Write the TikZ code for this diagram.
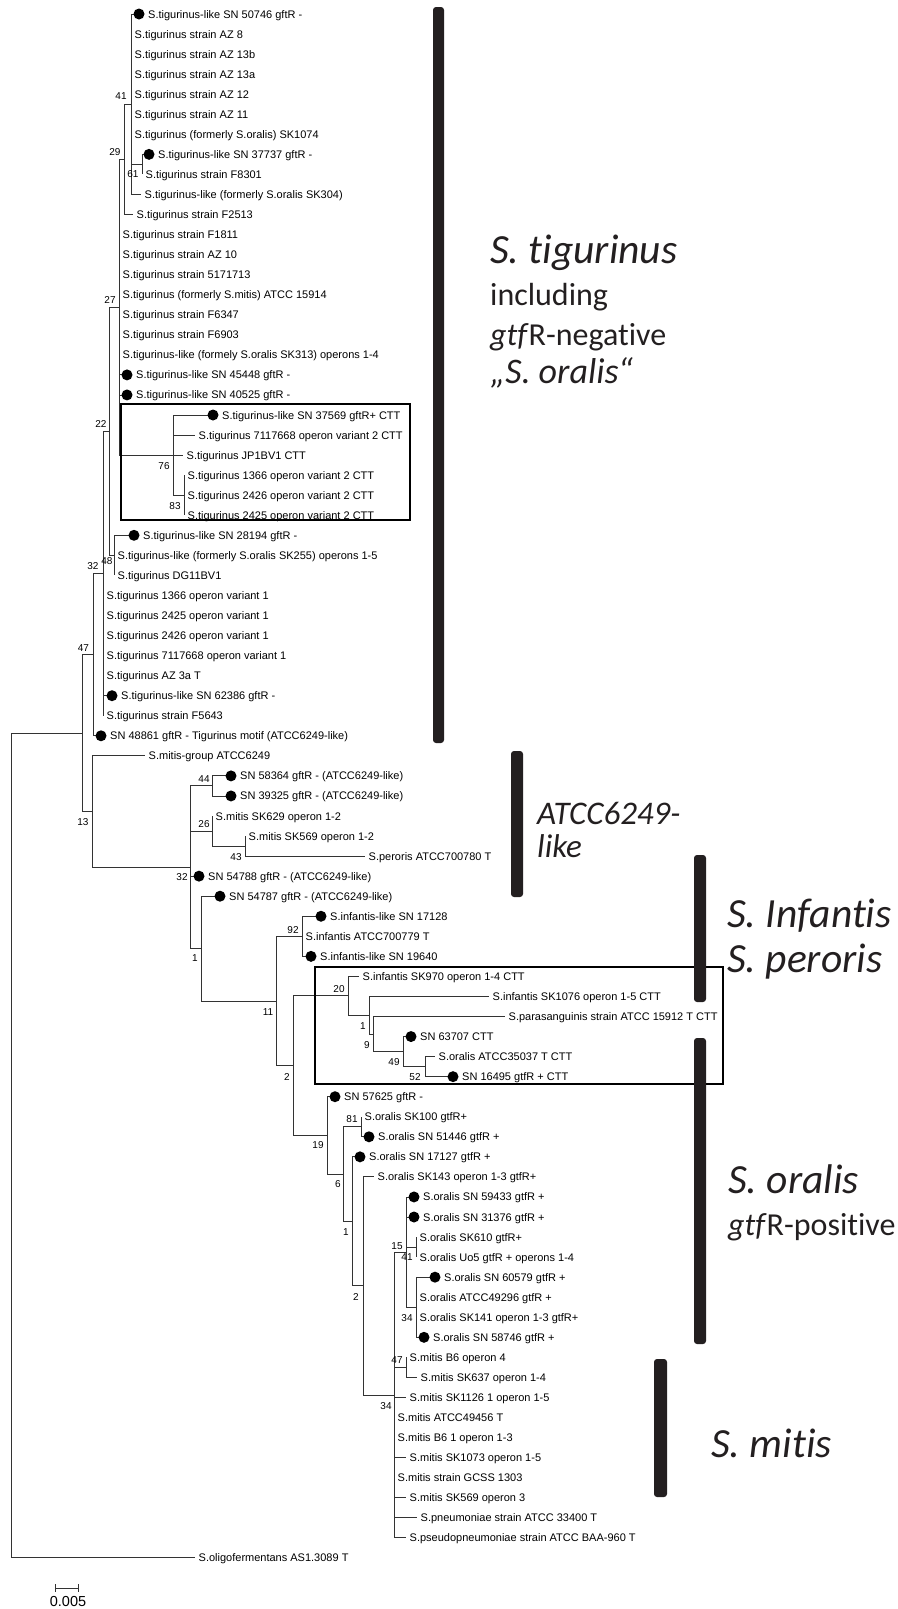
\documentclass[tikz,border=0pt]{standalone}
\usepackage{fontspec}
\setmainfont{Liberation Sans}
\newfontfamily\cladefont[Ligatures=NoCommon]{Carlito}
\usetikzlibrary{arrows}
\definecolor{barblack}{HTML}{231F20}

\tikzset{
  branch/.style={line width=0.9pt,draw=black!80},
  tip/.style={anchor=base west,inner sep=0pt,font=\fontsize{11}{13}\selectfont},
  boot/.style={inner sep=0pt,font=\fontsize{10}{12}\selectfont},
  marker/.style={circle,fill=black,inner sep=0pt,minimum size=11pt},
  cladebar/.style={fill=barblack,rounded corners=3pt},
  cttbox/.style={line width=1.3pt,draw=black},
  clade/.style={anchor=base west,inner sep=0pt,text=barblack,font=\cladefont\fontsize{41.5}{48}\selectfont},
  cladesub/.style={clade,font=\cladefont\fontsize{32}{38}\selectfont}
}

\begin{document}
\begin{tikzpicture}[>=latex,x=1pt,y=-1pt]
  \useasboundingbox (0,0) rectangle (897,1609);
  % inner nodes of the tree
  \foreach \n/\x/\y in {root/11/1145.48, nA/82/733.11, n47/93/654.66, n32a/103/573.52,
      n22/109/431.29, n27/119/307.23, n29/124/159.36, n41/131/104.23, n61/142/164.38,
      n76/173/455.1, n83/184/495.2, n48/114/555.35, n13/92/811.56, n32b/190/867.26,
      n44/212/785.93, n26/212/831.04, n43/245/846.08, n1a/201/948.58, n11/276/1000.96,
      n92/302/936.3, n2a/293/1065.61, n20/348/995.83, n1b/369/1015.25, n9/373/1034.05,
      n49/403/1051.59, n52/425/1066.63, n19/327/1135.4, n6/343/1174.09, n81/361/1126.78,
      n1c/352/1221.39, n2b/363/1285.93, n34a/394/1394.95, n15/406/1252.09,
      n41b/416/1247.08, n34b/416/1307.23, n47b/406/1367.38}
    \coordinate (\n) at (\x,\y);
  \foreach \c/\pa in {nA/root, n47/nA, n13/nA, n32a/n47, n22/n32a, n27/n22, n48/n22,
      n29/n27, n76/n27, n41/n29, n61/n41, n83/n76, n32b/n13, n44/n32b, n26/n32b,
      n1a/n32b, n43/n26, n11/n1a, n92/n11, n2a/n11, n20/n2a, n19/n2a, n1b/n20, n9/n1b,
      n49/n9, n52/n49, n6/n19, n81/n6, n1c/n6, n2b/n1c, n34a/n2b, n15/n34a, n47b/n34a,
      n41b/n15, n34b/n15}
    \draw[branch] (\pa) |- (\c);

  % boxes round the CTT sequences
  \draw[cttbox] (121,404) rectangle (410,520);
  \draw[cttbox] (315,967) rectangle (723,1084);

  % tips without marker
  \foreach \i/\pa/\ex/\txt in {1/n41/131/S.tigurinus strain AZ 8, 2/n41/131/S.tigurinus strain AZ 13b,
      3/n41/131/S.tigurinus strain AZ 13a, 4/n41/131/S.tigurinus strain AZ 12,
      5/n41/131/S.tigurinus strain AZ 11, 6/n41/131/S.tigurinus (formerly S.oralis) SK1074,
      8/n61/142/S.tigurinus strain F8301, 9/n41/141/S.tigurinus-like (formerly S.oralis SK304),
      10/n29/133/S.tigurinus strain F2513, 11/n27/119/S.tigurinus strain F1811,
      12/n27/119/S.tigurinus strain AZ 10, 13/n27/119/S.tigurinus strain 5171713,
      14/n27/119/S.tigurinus (formerly S.mitis) ATCC 15914, 15/n27/119/S.tigurinus strain F6347,
      16/n27/119/S.tigurinus strain F6903,
      17/n27/119/S.tigurinus-like (formely S.oralis SK313) operons 1-4,
      21/n76/195/S.tigurinus 7117668 operon variant 2 CTT, 22/n76/183/S.tigurinus JP1BV1 CTT,
      23/n83/184/S.tigurinus 1366 operon variant 2 CTT, 24/n83/184/S.tigurinus 2426 operon variant 2 CTT,
      25/n83/184/S.tigurinus 2425 operon variant 2 CTT,
      27/n48/114/S.tigurinus-like (formerly S.oralis SK255) operons 1-5,
      28/n48/114/S.tigurinus DG11BV1, 29/n32a/103/S.tigurinus 1366 operon variant 1,
      30/n32a/103/S.tigurinus 2425 operon variant 1, 31/n32a/103/S.tigurinus 2426 operon variant 1,
      32/n32a/103/S.tigurinus 7117668 operon variant 1, 33/n32a/103/S.tigurinus AZ 3a T,
      35/n32a/103/S.tigurinus strain F5643, 37/n13/145/S.mitis-group ATCC6249,
      40/n26/212/S.mitis SK629 operon 1-2, 41/n43/245/S.mitis SK569 operon 1-2,
      42/n43/365/S.peroris ATCC700780 T, 46/n92/302/S.infantis ATCC700779 T,
      48/n20/359/S.infantis SK970 operon 1-4 CTT, 49/n1b/489/S.infantis SK1076 operon 1-5 CTT,
      50/n9/505/S.parasanguinis strain ATCC 15912 T CTT, 52/n52/435/S.oralis ATCC35037 T CTT,
      55/n81/361/S.oralis SK100 gtfR+, 58/n2b/374/S.oralis SK143 operon 1-3 gtfR+,
      61/n41b/416/S.oralis SK610 gtfR+, 62/n41b/416/S.oralis Uo5 gtfR + operons 1-4,
      64/n34b/416/S.oralis ATCC49296 gtfR +, 65/n34b/416/S.oralis SK141 operon 1-3 gtfR+,
      67/n47b/406/S.mitis B6 operon 4, 68/n47b/417/S.mitis SK637 operon 1-4,
      69/n34a/406/S.mitis SK1126 1 operon 1-5, 70/n34a/394/S.mitis ATCC49456 T,
      71/n34a/394/S.mitis B6 1 operon 1-3, 72/n34a/406/S.mitis SK1073 operon 1-5,
      73/n34a/394/S.mitis strain GCSS 1303, 74/n34a/406/S.mitis SK569 operon 3,
      75/n34a/417/S.pneumoniae strain ATCC 33400 T,
      76/n34a/406/S.pseudopneumoniae strain ATCC BAA-960 T,
      77/root/195/S.oligofermentans AS1.3089 T}{
    \pgfmathsetmacro\yy{14+20.05*\i}
    \coordinate (l\i) at (\ex,\yy);
    \draw[branch] (\pa) |- (l\i);
    \node[tip] (t\i) at (\ex+3.5,\yy+4) {\txt};
  }

  % tips with marker
  \foreach \i/\pa/\dx/\txt in {0/n41/139/S.tigurinus-like SN 50746 gftR -,
      7/n61/149/S.tigurinus-like SN 37737 gftR -, 18/n27/127/S.tigurinus-like SN 45448 gftR -,
      19/n27/127/S.tigurinus-like SN 40525 gftR -, 20/n76/213/S.tigurinus-like SN 37569 gftR+ CTT,
      26/n48/134/S.tigurinus-like SN 28194 gftR -, 34/n32a/112/S.tigurinus-like SN 62386 gftR -,
      36/n47/101/SN 48861 gftR - Tigurinus motif (ATCC6249-like),
      38/n44/231/SN 58364 gftR - (ATCC6249-like), 39/n44/231/SN 39325 gftR - (ATCC6249-like),
      43/n32b/199/SN 54788 gftR - (ATCC6249-like), 44/n1a/220/SN 54787 gftR - (ATCC6249-like),
      45/n92/321/S.infantis-like SN 17128, 47/n92/311/S.infantis-like SN 19640,
      51/n49/411/SN 63707 CTT, 53/n52/453/SN 16495 gtfR + CTT, 54/n19/335/SN 57625 gftR -,
      56/n81/369/S.oralis SN 51446 gtfR +, 57/n1c/360/S.oralis SN 17127 gtfR +,
      59/n15/414/S.oralis SN 59433 gtfR +, 60/n15/414/S.oralis SN 31376 gtfR +,
      63/n34b/435/S.oralis SN 60579 gtfR +, 66/n34b/424/S.oralis SN 58746 gtfR +}{
    \pgfmathsetmacro\yy{14+20.05*\i}
    \coordinate (l\i) at (\dx-5,\yy);
    \draw[branch] (\pa) |- (l\i);
    \node[marker] (d\i) at (\dx,\yy) {};
    \node[tip] (t\i) at (\dx+9,\yy+4) {\txt};
  }

  % bootstrap values
  \foreach \n/\x/\y/\v in {n47/83.5/648/47, n32a/93/566/32, n22/101/424/22, n27/110/300/27,
      n29/115/152/29, n41/121/96/41, n61/133/174/61, n76/164/466/76, n83/175/506/83,
      n48/107/561/48, n13/83/822/13, n32b/182/877/32, n44/204/779/44, n26/204/824/26,
      n43/236/857/43, n1a/195/958/1, n11/268/1012/11, n92/293/930/92, n2a/287/1077/2,
      n20/339/989/20, n1b/363/1026/1, n9/367/1045/9, n49/394/1062/49, n52/415/1077/52,
      n19/318/1145/19, n81/352/1119/81, n6/338/1184/6, n1c/346/1232/1, n2b/356/1297/2,
      n34a/386/1406/34, n15/397/1246/15, n41b/407/1257/41, n34b/407/1318/34,
      n47b/397/1360/47}
    \node[boot] (b\n) at (\x,\y) {\v};

  % clade bars and names
  \fill[cladebar] (433,7) rectangle (444,743);
  \fill[cladebar] (511,751) rectangle (523,897);
  \fill[cladebar] (694,855) rectangle (706,1002);
  \fill[cladebar] (694,1038) rectangle (706,1344);
  \fill[cladebar] (654,1359) rectangle (667,1497);
  \node[clade] (tigA) at (490,263) {\itshape S. tigurinus};
  \node[cladesub] (tigB) at (490,305) {including};
  \node[cladesub] (tigC) at (490,345) {\textit{gtf}R-negative};
  \node[cladesub,font=\cladefont\fontsize{36}{42}\selectfont] (tigD) at (490,383) {\itshape „S. oralis“};
  \node[cladesub,font=\cladefont\fontsize{33}{38}\selectfont] (atcA) at (537,824) {\itshape ATCC6249-};
  \node[cladesub,font=\cladefont\fontsize{33}{38}\selectfont] (atcB) at (537,857) {\itshape like};
  \node[clade] (infA) at (727,927) {\itshape S. Infantis};
  \node[clade] (infB) at (727,972) {\itshape S. peroris};
  \node[clade] (oraA) at (728,1193) {\itshape S. oralis};
  \node[cladesub] (oraB) at (728,1235) {\textit{gtf}R-positive};
  \node[clade] (mitA) at (711,1457) {\itshape S. mitis};

  % scale bar
  \coordinate (sbl) at (55,1588);
  \coordinate (sbr) at (79,1588);
  \draw[branch,|-|] (sbl) -- (sbr);
  \node[anchor=base,inner sep=0pt,font=\fontsize{14.5}{16}\selectfont] (sbt) at (68,1606) {0.005};
\end{tikzpicture}
\end{document}
